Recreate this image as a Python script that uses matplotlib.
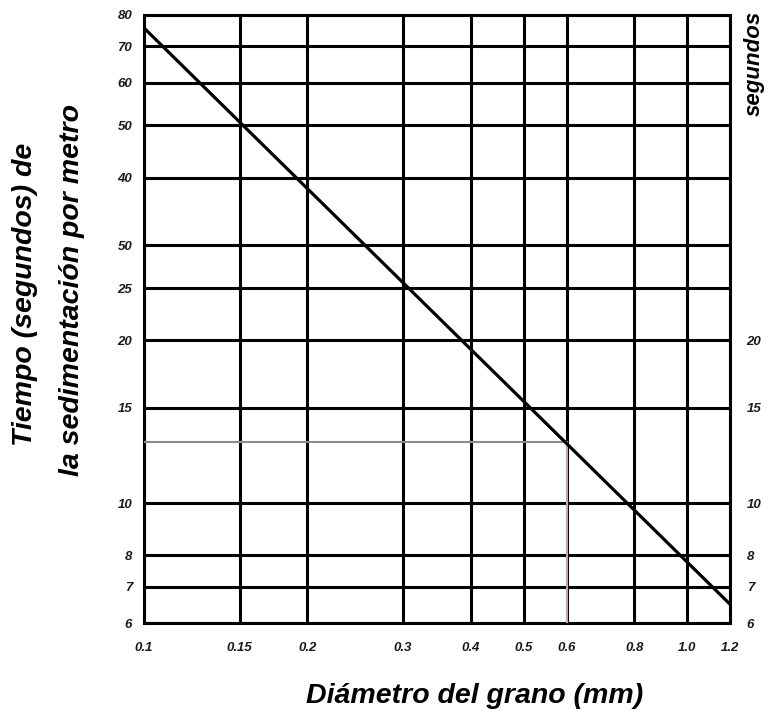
import matplotlib.pyplot as plt
from matplotlib.ticker import NullLocator

plt.rcParams['font.family'] = ['Liberation Sans', 'DejaVu Sans']

# Grid values (log-log paper)
diam_ticks = [0.1, 0.15, 0.2, 0.3, 0.4, 0.5, 0.6, 0.8, 1.0, 1.2]
diam_labels = ['0.1', '0.15', '0.2', '0.3', '0.4', '0.5', '0.6', '0.8', '1.0', '1.2']
time_ticks = [6, 7, 8, 10, 15, 20, 25, 30, 40, 50, 60, 70, 80]
time_labels_left = ['6', '7', '8', '10', '15', '20', '25', '50', '40', '50', '60', '70', '80']
time_ticks_right = [6, 7, 8, 10, 15, 20]

# Settling-time curve (straight on log-log paper)
curve_diam = [0.1, 1.2]
curve_time = [75.7, 6.5]

# Example reading: 0.6 mm -> 13 s
read_diam = 0.6
read_time = 13

fig = plt.figure(figsize=(7.7, 7.11), dpi=100)
ax = fig.add_axes([144 / 770, 1 - 623 / 711, (730 - 144) / 770, (623 - 15) / 711])

ax.set_xscale('log')
ax.set_yscale('log')
ax.set_xlim(0.1, 1.2)
ax.set_ylim(6, 80)

tick_font = dict(fontsize=9.5, fontweight='bold', fontstyle='italic', color='#1a1a1a')

ax.set_xticks(diam_ticks)
ax.set_xticklabels(diam_labels, **tick_font)
ax.set_yticks(time_ticks)
ax.set_yticklabels(time_labels_left, **tick_font)
ax.xaxis.set_minor_locator(NullLocator())
ax.yaxis.set_minor_locator(NullLocator())
ax.tick_params(axis='x', length=0, pad=14)
ax.tick_params(axis='y', length=0, pad=8.5)

# heavy black grid
ax.grid(True, which='major', color='black', linewidth=2.2)
for s in ax.spines.values():
    s.set_linewidth(2.2)
    s.set_color('black')

# labels on the right side, lower half only
ax_r = ax.twinx()
ax_r.set_yscale('log')
ax_r.set_ylim(6, 80)
ax_r.set_yticks(time_ticks_right)
ax_r.set_yticklabels([str(v) for v in time_ticks_right], **tick_font)
ax_r.yaxis.set_minor_locator(NullLocator())
ax_r.tick_params(axis='y', length=0, pad=12)
for s in ax_r.spines.values():
    s.set_visible(False)

# reading lines
ax.plot([diam_ticks[0], read_diam], [read_time, read_time], color='#8c8c8c', linewidth=1.5, zorder=3)
ax.plot([read_diam, read_diam], [read_time, time_ticks[0]], color='#c6a4ad', linewidth=1.5, zorder=3)

# the curve
ax.plot(curve_diam, curve_time, color='black', linewidth=2.3, solid_capstyle='butt', zorder=4)

label_font = dict(fontsize=20.5, fontweight='bold', fontstyle='italic', color='black')
fig.text(25 / 770, 1 - 294 / 711, 'Tiempo (segundos) de', rotation=90,
         ha='center', va='center', **label_font)
fig.text(72 / 770, 1 - 290 / 711, 'la sedimentación por metro', rotation=90,
         ha='center', va='center', **label_font)
fig.text(754 / 770, 1 - 63 / 711, 'segundos', rotation=90, ha='center', va='center',
         fontsize=16, fontweight='bold', fontstyle='italic', color='black')
fig.text(475 / 770, 1 - 696 / 711, 'Diámetro del grano (mm)', ha='center', va='center',
         **label_font)

fig.savefig('out.png', dpi=100)
